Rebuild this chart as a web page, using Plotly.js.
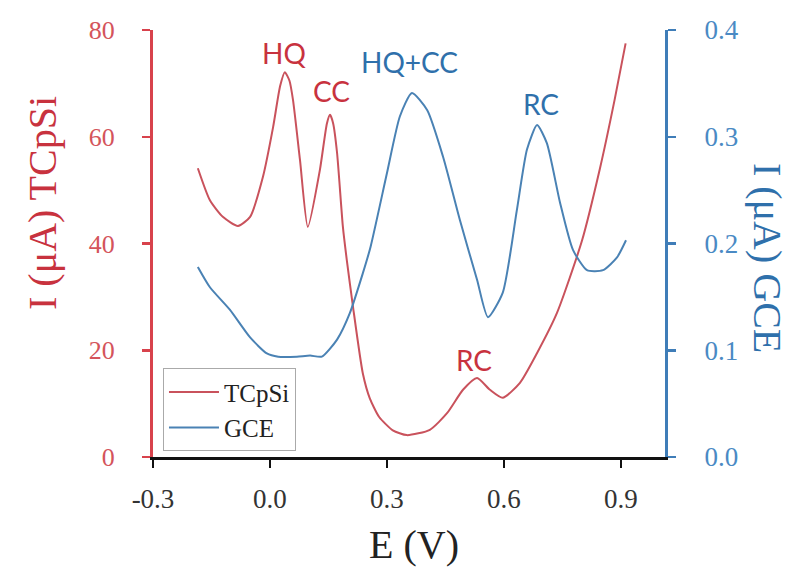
<!DOCTYPE html>
<html>
<head>
<meta charset="utf-8">
<script src="https://cdn.plot.ly/plotly-3.0.1.min.js"></script>
<style>html,body{margin:0;padding:0;background:#fff;}#chart{width:797px;height:568px;}</style>
</head>
<body>
<div id="chart"></div>
<script>
// Potential (V)
const tcpsiE = [-0.185,-0.154,-0.121,-0.082,-0.051,-0.018,0.008,0.026,0.038,0.050,0.059,0.077,0.097,0.128,0.146,0.154,0.162,0.172,0.187,0.197,0.213,0.238,0.256,0.280,0.315,0.351,0.410,0.454,0.495,0.531,0.564,0.597,0.641,0.685,0.736,0.800,0.846,0.884,0.912];
// Current (uA) TCpSi
const tcpsiI = [54.1,48.1,45.0,43.3,45.0,52.5,61.8,69.5,72.1,70.5,66.9,55.6,43.1,53.8,62.5,64.1,62.5,57.0,43.1,36.9,28.1,15.7,11.0,7.5,5.0,4.1,5.1,8.2,12.6,14.8,12.6,11.1,13.9,19.5,27.0,40.5,54.0,67.0,77.5];
const gceE = [-0.185,-0.154,-0.103,-0.051,-0.008,0.021,0.069,0.103,0.133,0.172,0.205,0.238,0.258,0.300,0.333,0.364,0.403,0.444,0.487,0.531,0.559,0.597,0.633,0.659,0.685,0.710,0.744,0.777,0.813,0.854,0.890,0.913];
// Current (uA) GCE
const gceI = [0.178,0.159,0.138,0.112,0.097,0.094,0.094,0.095,0.094,0.110,0.135,0.172,0.197,0.266,0.319,0.341,0.325,0.281,0.222,0.166,0.131,0.154,0.231,0.288,0.311,0.294,0.238,0.194,0.175,0.175,0.187,0.203];

const xTickVals = [-0.3, 0.0, 0.3, 0.6, 0.9];
const xTickText = ["-0.3", "0.0", "0.3", "0.6", "0.9"];
const yLeftTicks = [0, 20, 40, 60, 80];
const yRightTicks = [0, 0.1, 0.2, 0.3, 0.4];
const yRightText = ["0.0", "0.1", "0.2", "0.3", "0.4"];

// peak labels: text, E, current, axis
const peakText = ["HQ", "CC", "HQ+CC", "RC", "RC"];
const peakE = [0.036, 0.159, 0.359, 0.695, 0.523];
const peakVal = [75.7, 68.6, 0.370, 0.331, 18.2];
const peakAxis = ["y", "y", "y2", "y2", "y"];

const RED_AX = "#d8424c", RED_LINE = "#c9525c", RED_TXT = "#d4545b", RED_LBL = "#c8323e";
const BLUE_AX = "#3f7db8", BLUE_LINE = "#4a82b4", BLUE_TXT = "#4a8ac4", BLUE_LBL = "#2f70ab";
const SERIF = "Liberation Serif, Times New Roman, serif";

const traces = [
  {x: tcpsiE, y: tcpsiI, name: "TCpSi", type: "scatter", mode: "lines",
   line: {color: RED_LINE, width: 2, shape: "spline", smoothing: 0.6}, yaxis: "y"},
  {x: gceE, y: gceI, name: "GCE", type: "scatter", mode: "lines",
   line: {color: BLUE_LINE, width: 2, shape: "spline", smoothing: 0.6}, yaxis: "y2"}
];

const annotations = peakText.map((t, i) => ({
  text: t, x: peakE[i], y: peakVal[i], xref: "x", yref: peakAxis[i],
  showarrow: false, xanchor: "center", yanchor: "middle",
  font: {family: "Lato, Open Sans, sans-serif", size: 28, color: peakAxis[i] === "y" ? RED_LBL : BLUE_LBL}
}));
annotations.push(
  {text: "I (μA) TCpSi", xref: "paper", yref: "paper", x: -0.2148, y: 0.595, textangle: -90,
   showarrow: false, xanchor: "center", yanchor: "middle",
   font: {family: SERIF, size: 40, color: RED_LBL}},
  {text: "I (μA) GCE", xref: "paper", yref: "paper", x: 1.2012, y: 0.466, textangle: 90,
   showarrow: false, xanchor: "center", yanchor: "middle",
   font: {family: SERIF, size: 40, color: BLUE_LBL}},
  {text: "E (V)", xref: "paper", yref: "paper", x: 0.51, y: -0.204,
   showarrow: false, xanchor: "center", yanchor: "middle",
   font: {family: SERIF, size: 40, color: "#222"}}
);

const layout = {
  width: 797, height: 568,
  margin: {l: 153, r: 132, t: 30, b: 111},
  paper_bgcolor: "#fff", plot_bgcolor: "#fff",
  showlegend: true,
  legend: {x: 0.0195, y: 0.208, xanchor: "left", yanchor: "top",
    font: {family: SERIF, size: 25, color: "#222"}, itemwidth: 50,
    bordercolor: "#aaa", borderwidth: 1, bgcolor: "#fff"},
  xaxis: {range: [-0.3, 1.013], tickvals: xTickVals, ticktext: xTickText,
    showline: true, linecolor: "#111", linewidth: 2.5, ticks: "outside", ticklen: 8, tickwidth: 2.5,
    tickcolor: "#111", showgrid: false, zeroline: false, ticklabelstandoff: 8,
    tickfont: {family: SERIF, size: 27, color: "#333"}},
  yaxis: {range: [0, 80], tickvals: yLeftTicks, showline: true, linecolor: RED_AX, linewidth: 3,
    ticks: "outside", ticklen: 8, tickwidth: 2.5, tickcolor: RED_AX, showgrid: false, zeroline: false,
    ticklabelstandoff: 22, tickfont: {family: SERIF, size: 26, color: RED_TXT}},
  yaxis2: {range: [0, 0.4], tickvals: yRightTicks, ticktext: yRightText, overlaying: "y", side: "right",
    showline: true, linecolor: BLUE_AX, linewidth: 3, ticks: "outside", ticklen: 8, tickwidth: 2.5,
    tickcolor: BLUE_AX, showgrid: false, zeroline: false, ticklabelstandoff: 23,
    tickfont: {family: SERIF, size: 27, color: BLUE_TXT}},
  annotations: annotations
};

Plotly.newPlot("chart", traces, layout, {displayModeBar: false, staticPlot: true});
</script>
</body>
</html>
